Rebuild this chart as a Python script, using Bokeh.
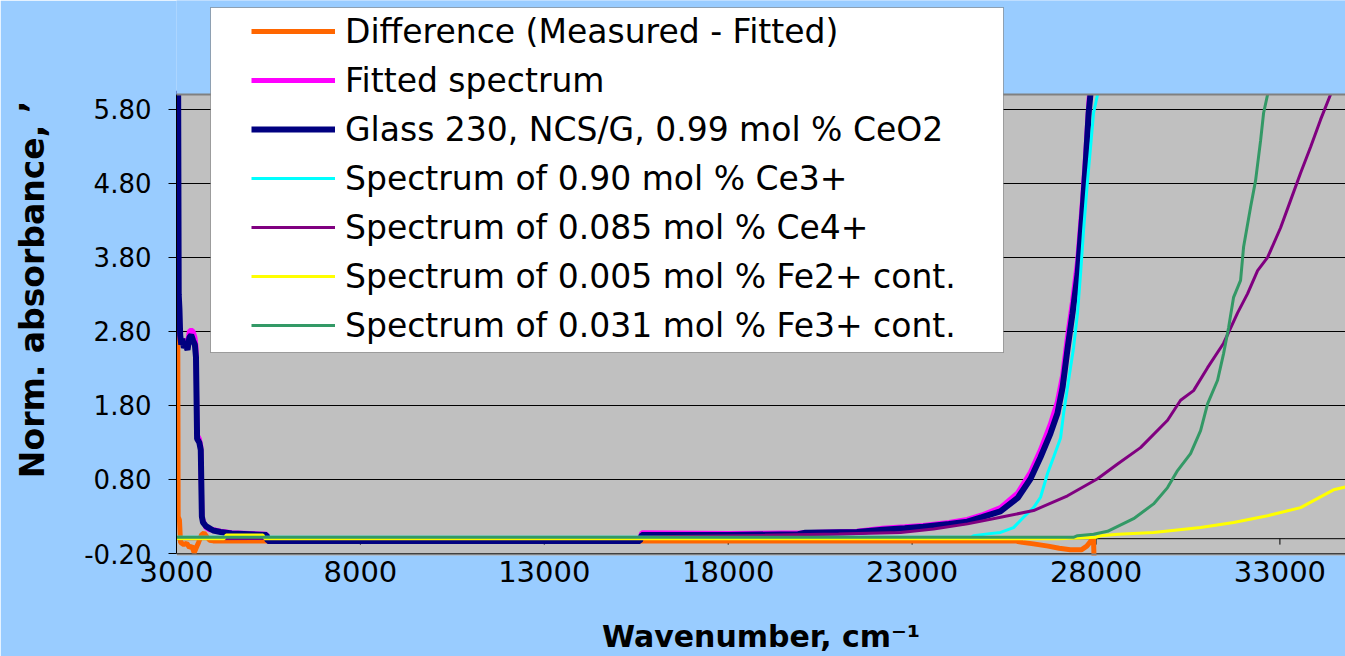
from bokeh.plotting import figure
from bokeh.models import (Range1d, FixedTicker, NumeralTickFormatter, Span,
                          BoxAnnotation, Legend, LegendItem)
from bokeh.embed import file_html
from bokeh.resources import INLINE

# ---------------- data ----------------
x_ticks = [3000, 8000, 13000, 18000, 23000, 28000, 33000]
y_ticks = [-0.2, 0.8, 1.8, 2.8, 3.8, 4.8, 5.8]

diff_x = [3020, 3035, 3045, 3080, 3110, 3200, 3280, 3350, 3420, 3480, 3540, 3600,
          3680, 3750, 3830, 3900, 4000, 10000, 20000, 25800, 26000, 26300, 26700,
          27000, 27300, 27600, 27750, 27880, 27930, 27960, 28000]
diff_y = [2.77, 2.77, 0.30, 0.25, -0.05, -0.08, -0.06, -0.12, -0.10, -0.19, -0.12, -0.05,
          0.05, 0.08, 0.02, -0.02, -0.03, -0.03, -0.03, -0.03, -0.05, -0.07, -0.10,
          -0.13, -0.15, -0.15, -0.10, -0.02, 0.02, -0.50, -0.60]

fit_x = [3030, 3045, 3060, 3080, 3100, 3130, 3160, 3200, 3250, 3300, 3350, 3400, 3450,
         3500, 3530, 3560, 3620, 3660, 3690, 3720, 3800, 3900, 4000, 4200, 4500, 5000,
         5450, 5480, 15600, 15650, 18000, 20000, 21500, 22200, 22800, 23300, 24000,
         24500, 24900, 25400, 25870, 26220, 26490, 26760, 26950, 27090, 27230, 27360,
         27500, 27630, 27720, 27800, 27850]
fit_y = [3.70, 3.60, 3.00, 2.85, 2.70, 2.65, 2.70, 2.62, 2.70, 2.65, 2.80, 2.82, 2.80,
         2.72, 2.60, 1.40, 1.35, 1.25, 0.30, 0.25, 0.15, 0.12, 0.12, 0.10, 0.08, 0.07,
         0.06, 0.00, 0.00, 0.08, 0.07, 0.08, 0.10, 0.14, 0.16, 0.18, 0.22,
         0.26, 0.32, 0.42, 0.62, 0.90, 1.20, 1.55, 1.85, 2.20, 2.75, 3.20,
         3.75, 4.55, 5.20, 5.85, 6.20]

glass_x = [3030, 3045, 3060, 3080, 3100, 3130, 3160, 3200, 3250, 3300, 3350, 3400, 3450,
           3500, 3530, 3560, 3620, 3660, 3690, 3720, 3800, 3900, 4000, 4200, 4500, 5000,
           5450, 5480, 10000, 15600, 15650, 18000, 19900, 20100, 21500, 22200, 22800,
           23300, 24000, 24500, 24900, 25400, 25870, 26220, 26490, 26760, 26950, 27090,
           27230, 27360, 27500, 27630, 27720, 27800, 27850, 27900]
glass_y = [6.05, 6.05, 3.30, 3.10, 2.75, 2.62, 2.70, 2.58, 2.62, 2.55, 2.72, 2.75, 2.68,
           2.62, 2.45, 1.35, 1.30, 1.20, 0.30, 0.22, 0.17, 0.14, 0.11, 0.09, 0.07, 0.06,
           0.05, -0.03, -0.03, -0.03, 0.05, 0.05, 0.06, 0.08, 0.09, 0.12, 0.14,
           0.16, 0.20, 0.23, 0.29, 0.37, 0.55, 0.81, 1.10, 1.42, 1.69, 2.04,
           2.58, 3.04, 3.58, 4.40, 5.07, 5.75, 6.01, 6.60]

ce3_x = [3000, 24600, 24670, 25050, 25405, 25758, 26030, 26302, 26492, 26682, 26846,
         27036, 27118, 27254, 27390, 27498, 27580, 27661, 27770, 27852, 27933, 28042, 28100]
ce3_y = [0.02, 0.02, 0.04, 0.065, 0.085, 0.15, 0.29, 0.42, 0.56, 0.88, 1.10,
         1.36, 1.69, 2.14, 2.58, 3.05, 3.58, 4.16, 4.84, 5.29, 5.75, 6.00, 6.30]

ce4_x = [3000, 15000, 16500, 19000, 21000, 22686, 23583, 24507, 25405, 26302, 27226,
         28042, 28586, 29211, 29945, 30299, 30652, 31033, 31468, 31849, 32121, 32393,
         32665, 33018, 33290, 33562, 33834, 34105, 34377, 34600]
ce4_y = [0.00, 0.01, 0.03, 0.045, 0.065, 0.085, 0.13, 0.20, 0.29, 0.38, 0.58,
         0.81, 1.01, 1.23, 1.60, 1.87, 2.00, 2.31, 2.64, 3.05, 3.31, 3.62,
         3.80, 4.20, 4.57, 4.94, 5.29, 5.66, 6.00, 6.30]

fe2_x = [3000, 4300, 4350, 5350, 5400, 27000, 28000, 28124, 28600, 29565, 30843,
         31740, 32665, 33562, 34458, 34800]
fe2_y = [0.00, 0.00, 0.05, 0.05, 0.00, 0.00, 0.02, 0.04, 0.06, 0.085, 0.15,
         0.22, 0.31, 0.42, 0.66, 0.70]

fe3_x = [3000, 27400, 27498, 27933, 28313, 29021, 29565, 29945, 30217, 30570, 30843,
         31033, 31305, 31468, 31604, 31740, 31930, 32012, 32203, 32339, 32475, 32556,
         32665, 32750]
fe3_y = [0.02, 0.02, 0.04, 0.06, 0.10, 0.27, 0.47, 0.69, 0.92, 1.15, 1.46,
         1.82, 2.14, 2.50, 2.85, 3.26, 3.49, 3.94, 4.48, 4.84, 5.38, 5.75,
         6.00, 6.30]

labels = ["Difference (Measured - Fitted)",
          "Fitted spectrum",
          "Glass 230, NCS/G, 0.99 mol % CeO2",
          "Spectrum of 0.90 mol % Ce3+",
          "Spectrum of 0.085 mol % Ce4+",
          "Spectrum of 0.005 mol % Fe2+ cont.",
          "Spectrum of 0.031 mol % Fe3+ cont."]

Y_MIN, Y_MAX = -0.2, 6.0          # plotted value window (grey area)

# ---------------- figure ----------------
FONT = "DejaVu Sans"
BLUE = "#99CCFF"
p = figure(width=1345, height=656, output_backend="svg", toolbar_location=None,
           x_range=Range1d(3000, 34783), y_range=Range1d(-0.227, 7.2697),
           min_border_left=176, min_border_right=0, min_border_top=0,
           min_border_bottom=101)
p.background_fill_color = BLUE
p.border_fill_color = BLUE
p.outline_line_color = None

# grey plot area (below the grid lines)
p.add_layout(BoxAnnotation(top=Y_MAX, fill_color="#C0C0C0", fill_alpha=1.0,
                           line_alpha=0, level="image"))

# y axis
p.yaxis.ticker = FixedTicker(ticks=y_ticks)
p.yaxis.bounds = (Y_MIN, Y_MAX)
p.yaxis.formatter = NumeralTickFormatter(format="0.00")
p.yaxis.major_label_text_font = FONT
p.yaxis.major_label_text_font_size = "26px"
p.yaxis.major_label_text_color = "black"
p.yaxis.major_tick_out = 8
p.yaxis.major_tick_in = 0
p.yaxis.major_tick_line_color = "black"
p.yaxis.minor_tick_line_color = None
p.yaxis.axis_line_color = "black"
p.yaxis.major_label_standoff = 17
p.yaxis.axis_label = "Norm. absorbance, \u2019\u00a0\u00a0"
p.yaxis.axis_label_text_font = FONT
p.yaxis.axis_label_text_font_style = "bold"
p.yaxis.axis_label_text_font_size = "33px"
p.yaxis.axis_label_text_color = "black"
p.yaxis.axis_label_standoff = 29

# x axis (labels below the frame, axis line drawn at y = 0)
p.xaxis.ticker = FixedTicker(ticks=x_ticks)
p.xaxis.formatter = NumeralTickFormatter(format="0")
p.xaxis.major_label_text_font = FONT
p.xaxis.major_label_text_font_size = "29px"
p.xaxis.major_label_text_color = "black"
p.xaxis.major_tick_out = 0
p.xaxis.major_tick_in = 0
p.xaxis.minor_tick_line_color = None
p.xaxis.major_tick_line_color = None
p.xaxis.axis_line_color = None
p.xaxis.major_label_standoff = 5
p.xaxis.axis_label = "Wavenumber, cm\u207b\u00b9"
p.xaxis.axis_label_text_font = FONT
p.xaxis.axis_label_text_font_style = "bold"
p.xaxis.axis_label_text_font_size = "30px"
p.xaxis.axis_label_text_color = "black"
p.xaxis.axis_label_standoff = 34

p.xgrid.visible = False
p.ygrid.grid_line_color = "black"
p.ygrid.grid_line_width = 1
p.ygrid.grid_line_alpha = 1

p.add_layout(Span(location=0, dimension="width", line_color="black",
                  line_width=1, level="underlay"))
p.segment(x0=x_ticks, y0=[0] * len(x_ticks), x1=x_ticks,
          y1=[-0.08] * len(x_ticks), line_color="black", line_width=1)

r_diff = p.line(diff_x, diff_y, line_color="#FF6600", line_width=5)
r_fit = p.line(fit_x, fit_y, line_color="#FF00FF", line_width=5)
r_glass = p.line(glass_x, glass_y, line_color="#000080", line_width=6)
r_ce3 = p.line(ce3_x, ce3_y, line_color="#00FFFF", line_width=3)
r_ce4 = p.line(ce4_x, ce4_y, line_color="#800080", line_width=3)
r_fe2 = p.line(fe2_x, fe2_y, line_color="#FFFF00", line_width=3)
r_fe3 = p.line(fe3_x, fe3_y, line_color="#339966", line_width=3)

# blue mask above the plotted window, grey plot-area borders
p.add_layout(BoxAnnotation(bottom=Y_MAX, fill_color=BLUE, fill_alpha=1.0,
                           line_alpha=0, level="annotation"))
p.add_layout(BoxAnnotation(top=Y_MIN, fill_color="#808080", fill_alpha=1.0,
                           line_alpha=0, level="annotation"))
p.add_layout(Span(location=Y_MAX, dimension="width", line_color="#808080",
                  line_width=2, level="annotation"))

# legend box
p.add_layout(BoxAnnotation(left=34, right=827, top=548, bottom=203,
                           left_units="screen", right_units="screen",
                           top_units="screen", bottom_units="screen",
                           fill_color="white", fill_alpha=1.0,
                           line_color="black", line_width=1, level="annotation"))

rends = [r_diff, r_fit, r_glass, r_ce3, r_ce4, r_fe2, r_fe3]
legend = Legend(items=[LegendItem(label=l, renderers=[r]) for l, r in zip(labels, rends)],
                location=(71, 206), orientation="vertical",
                label_text_font=FONT, label_text_font_size="33px",
                label_text_color="black",
                glyph_width=84, glyph_height=40, label_height=40,
                spacing=9, padding=4, label_standoff=10, margin=0,
                background_fill_alpha=0, border_line_alpha=0)
p.add_layout(legend)

open("out.html", "w").write(file_html(p, INLINE))
